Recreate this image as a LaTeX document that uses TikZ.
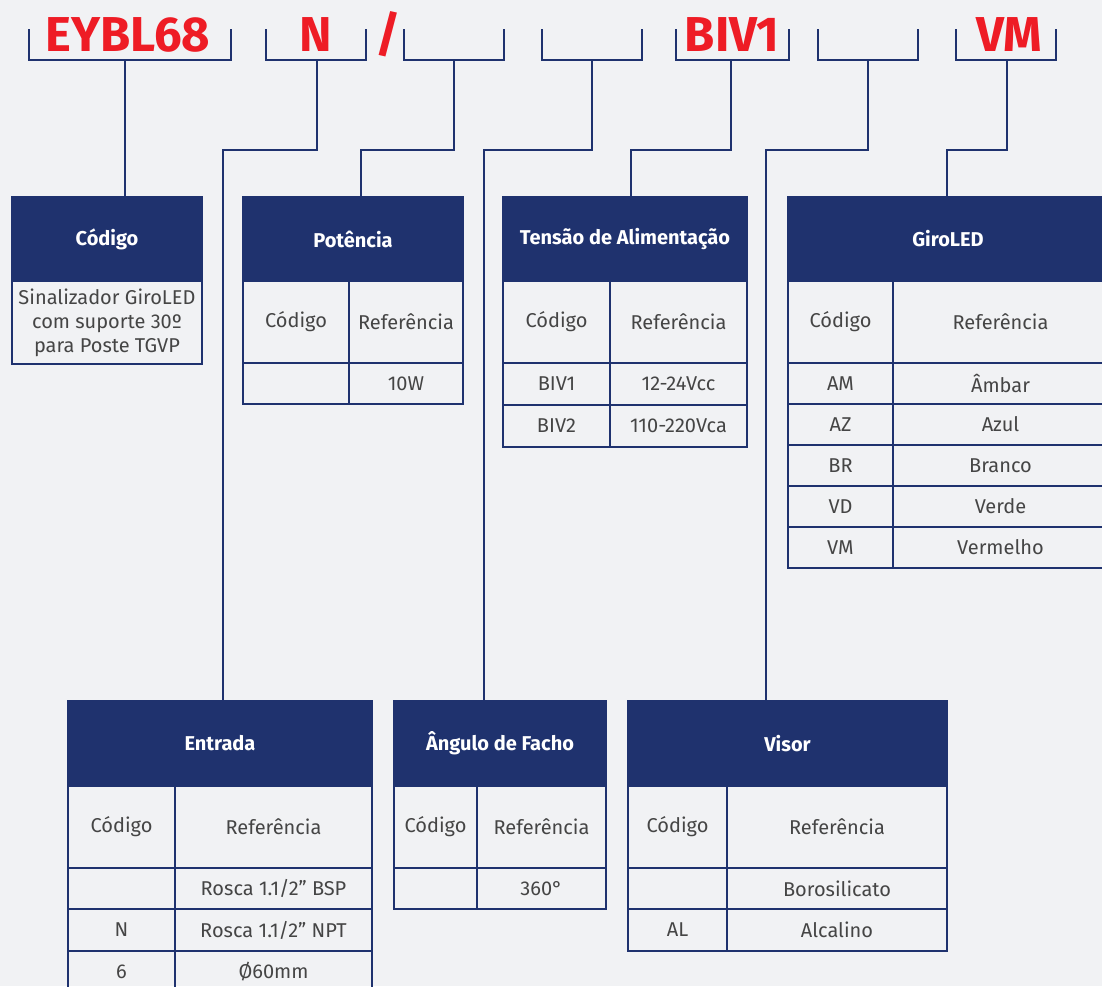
\documentclass[tikz,border=0pt]{standalone}
\usepackage{fontspec}
\setmainfont{Fira Sans}
\definecolor{navy}{HTML}{1F326E}
\definecolor{bgc}{HTML}{F1F2F4}
\definecolor{codered}{HTML}{EE1C25}
\definecolor{txt}{HTML}{454545}
\begin{document}
\begin{tikzpicture}[x=1pt,y=-1pt,
  hdr/.style={rectangle, fill=navy, draw=navy, line width=1.5pt, anchor=north west, inner sep=0pt, outer sep=0pt, text=white, font=\fontsize{20}{24}\selectfont\bfseries},
  cell/.style={rectangle, draw=navy, line width=2pt, anchor=north west, inner sep=0pt, outer sep=0pt, text=txt, font=\fontsize{20}{24}\selectfont, align=center},
  sz/.style 2 args={minimum width=#1pt, minimum height=#2pt},
  conn/.style={draw=navy, line width=2.4pt},
  code/.style={text=codered, font=\fontsize{49}{52}\selectfont\bfseries, anchor=base, inner sep=0pt},
]
\clip (0,0) rectangle (1102,986);
\fill[bgc] (0,0) rectangle (1102,986);

% ---- code labels
\node[code] (t1) at (128,51) {EYBL68};
\node[code] (t2) at (316,51) {N};
\node[code] (ts) at (388,51) {/};
\node[code] (t5) at (732,51) {BIV1};
\node[code] (t7) at (1009,51) {VM};

% ---- brackets
\draw[conn] (29,29) |- (231,60) -- (231,29);
\draw[conn] (266,29) |- (366,60) -- (366,29);
\draw[conn] (404,29) |- (504,60) -- (504,29);
\draw[conn] (542,29) |- (642,60) -- (642,29);
\draw[conn] (676,29) |- (789,60) -- (789,29);
\draw[conn] (818,29) |- (918,60) -- (918,29);
\draw[conn] (956,29) |- (1056,60) -- (1056,29);
\coordinate (b1) at (125,60);
\coordinate (b2) at (317,60);
\coordinate (b3) at (454,60);
\coordinate (b4) at (592,60);
\coordinate (b5) at (731,60);
\coordinate (b6) at (868,60);
\coordinate (b7) at (1007,60);
\coordinate (k2) at (223,150);
\coordinate (k3) at (361,150);
\coordinate (k4) at (484,150);
\coordinate (k5) at (631,150);
\coordinate (k6) at (766,150);
\coordinate (k7) at (947,150);

% ---- Código
\node[hdr, sz={190}{84}] (cod-h) at (12,197) {Código};
\node[cell, sz={190}{83}] (cod-b) at (12,281) {Sinalizador GiroLED\\com suporte 30º\\para Poste TGVP};

% ---- Potência
\node[hdr, sz={220}{84}] (pot-h) at (243,197) {Potência};
\node[cell, sz={106}{82}] (pot-c0) at (243,281) {Código};
\node[cell, sz={114}{82}] (pot-r0) at (349,281) {Referência};
\node[cell, sz={106}{41}] (pot-c1) at (243,363) {};
\node[cell, sz={114}{41}] (pot-r1) at (349,363) {10W};

% ---- Tensão de Alimentação
\node[hdr, sz={244}{84}] (ten-h) at (503,197) {Tensão de Alimentação};
\node[cell, sz={107}{82}] (ten-c0) at (503,281) {Código};
\node[cell, sz={137}{82}] (ten-r0) at (610,281) {Referência};
\node[cell, sz={107}{42}] (ten-c1) at (503,363) {BIV1};
\node[cell, sz={137}{42}] (ten-r1) at (610,363) {12-24Vcc};
\node[cell, sz={107}{42}] (ten-c2) at (503,405) {BIV2};
\node[cell, sz={137}{42}] (ten-r2) at (610,405) {110-220Vca};

% ---- GiroLED
\node[hdr, sz={320}{84}] (gir-h) at (788,197) {GiroLED};
\node[cell, sz={105}{82}] (gir-c0) at (788,281) {Código};
\node[cell, sz={215}{82}] (gir-r0) at (893,281) {Referência};
\node[cell, sz={105}{41}] (gir-c1) at (788,363) {AM};
\node[cell, sz={215}{41}] (gir-r1) at (893,363) {Âmbar};
\node[cell, sz={105}{41}] (gir-c2) at (788,404) {AZ};
\node[cell, sz={215}{41}] (gir-r2) at (893,404) {Azul};
\node[cell, sz={105}{41}] (gir-c3) at (788,445) {BR};
\node[cell, sz={215}{41}] (gir-r3) at (893,445) {Branco};
\node[cell, sz={105}{41}] (gir-c4) at (788,486) {VD};
\node[cell, sz={215}{41}] (gir-r4) at (893,486) {Verde};
\node[cell, sz={105}{41}] (gir-c5) at (788,527) {VM};
\node[cell, sz={215}{41}] (gir-r5) at (893,527) {Vermelho};

% ---- Entrada
\node[hdr, sz={304}{85}] (ent-h) at (68,701) {Entrada};
\node[cell, sz={107}{82}] (ent-c0) at (68,786) {Código};
\node[cell, sz={197}{82}] (ent-r0) at (175,786) {Referência};
\node[cell, sz={107}{41}] (ent-c1) at (68,868) {};
\node[cell, sz={197}{41}] (ent-r1) at (175,868) {Rosca 1.1/2” BSP};
\node[cell, sz={107}{42}] (ent-c2) at (68,909) {N};
\node[cell, sz={197}{42}] (ent-r2) at (175,909) {Rosca 1.1/2” NPT};
\node[cell, sz={107}{42}] (ent-c3) at (68,951) {6};
\node[cell, sz={197}{42}] (ent-r3) at (175,951) {Ø60mm};

% ---- Ângulo de Facho
\node[hdr, sz={212}{85}] (ang-h) at (394,701) {Ângulo de Facho};
\node[cell, sz={83}{82}] (ang-c0) at (394,786) {Código};
\node[cell, sz={129}{82}] (ang-r0) at (477,786) {Referência};
\node[cell, sz={83}{41}] (ang-c1) at (394,868) {};
\node[cell, sz={129}{41}] (ang-r1) at (477,868) {360°};

% ---- Visor
\node[hdr, sz={319}{85}] (vis-h) at (628,701) {Visor};
\node[cell, sz={99}{82}] (vis-c0) at (628,786) {Código};
\node[cell, sz={220}{82}] (vis-r0) at (727,786) {Referência};
\node[cell, sz={99}{41}] (vis-c1) at (628,868) {};
\node[cell, sz={220}{41}] (vis-r1) at (727,868) {Borosilicato};
\node[cell, sz={99}{42}] (vis-c2) at (628,909) {AL};
\node[cell, sz={220}{42}] (vis-r2) at (727,909) {Alcalino};

% ---- connectors
\draw[conn] (b1) -- (b1 |- cod-h.north);
\draw[conn] (b2) |- (k2) -- (k2 |- ent-h.north);
\draw[conn] (b3) |- (k3) -- (k3 |- pot-h.north);
\draw[conn] (b4) |- (k4) -- (k4 |- ang-h.north);
\draw[conn] (b5) |- (k5) -- (k5 |- ten-h.north);
\draw[conn] (b6) |- (k6) -- (k6 |- vis-h.north);
\draw[conn] (b7) |- (k7) -- (k7 |- gir-h.north);
\end{tikzpicture}
\end{document}
